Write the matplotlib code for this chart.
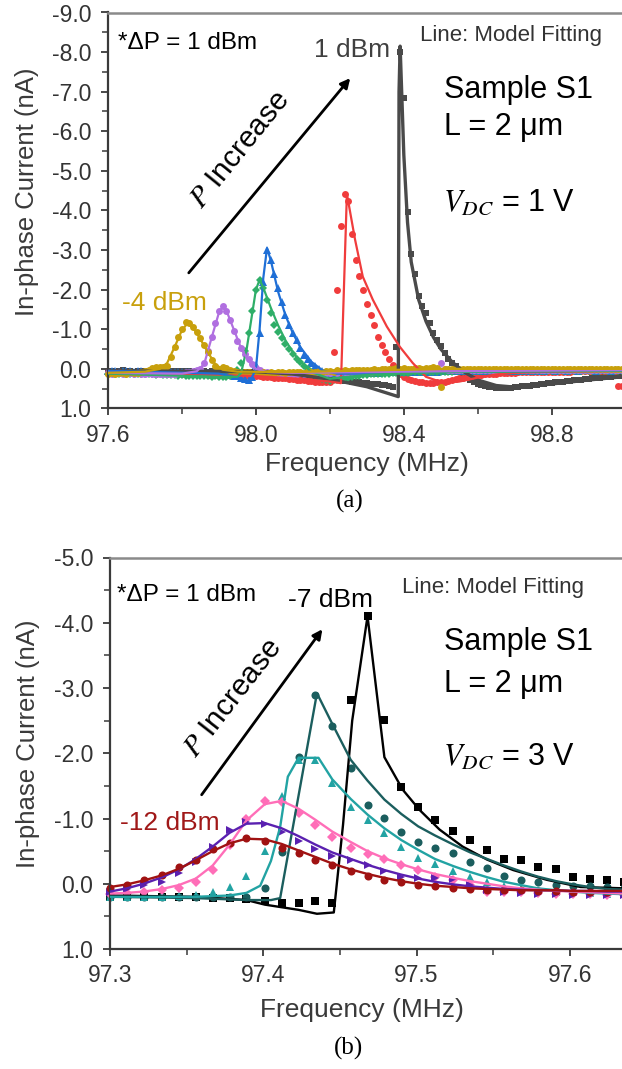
import numpy as np
import matplotlib
matplotlib.use("Agg")
import matplotlib.pyplot as plt
from matplotlib.ticker import MultipleLocator, FixedLocator, FormatStrFormatter

# ---------------- Panel (a): V_DC = 1 V, P from -4 dBm to 1 dBm ----------------
freq_a = np.linspace(97.60, 99.00, 141)

cur_a_p1 = [  # 1 dBm
    0.06, 0.05, 0.07, 0.05, 0.04, 0.06, 0.05, 0.07, 0.06, 0.05,
    0.05, 0.06, 0.04, 0.05, 0.06, 0.05, 0.07, 0.05, 0.06, 0.05,
    0.06, 0.05, 0.06, 0.07, 0.05, 0.06, 0.06, 0.07, 0.06, 0.07,
    0.07, 0.06, 0.08, 0.07, 0.08, 0.07, 0.08, 0.09, 0.08, 0.09,
    0.09, 0.10, 0.10, 0.11, 0.12, 0.12, 0.13, 0.14, 0.15, 0.15,
    0.16, 0.17, 0.18, 0.19, 0.20, 0.21, 0.22, 0.23, 0.24, 0.25,
    0.26, 0.27, 0.28, 0.29, 0.30, 0.31, 0.32, 0.33, 0.34, 0.35,
    0.36, 0.37, 0.38, 0.39, 0.40, 0.41, 0.42, 0.45, -0.55, -8.00,
    -6.85, -3.96, -2.90, -2.40, -1.85, -1.60, -1.42, -1.17, -0.90, -0.72,
    -0.58, -0.40, -0.25, -0.16, -0.07, 0.02, 0.10, 0.18, 0.28, 0.33,
    0.37, 0.40, 0.43, 0.45, 0.46, 0.47, 0.48, 0.48, 0.47, 0.47,
    0.46, 0.45, 0.44, 0.43, 0.42, 0.41, 0.40, 0.39, 0.37, 0.36,
    0.35, 0.34, 0.33, 0.32, 0.31, 0.30, 0.29, 0.28, 0.27, 0.26,
    0.25, 0.24, 0.23, 0.22, 0.21, 0.20, 0.20, 0.19, 0.18, 0.18,
    0.17]
cur_a_0 = [  # 0 dBm
    0.08, 0.10, 0.09, 0.08, 0.10, 0.09, 0.11, 0.10, 0.09, 0.10,
    0.10, 0.11, 0.10, 0.12, 0.11, 0.10, 0.12, 0.11, 0.12, 0.12,
    0.12, 0.13, 0.12, 0.13, 0.14, 0.13, 0.14, 0.15, 0.14, 0.15,
    0.15, 0.16, 0.15, 0.16, 0.17, 0.16, 0.17, 0.18, 0.17, 0.18,
    0.19, 0.19, 0.20, 0.21, 0.21, 0.22, 0.23, 0.23, 0.24, 0.25,
    0.26, 0.27, 0.28, 0.29, 0.30, 0.31, 0.32, 0.33, 0.33, 0.34,
    0.34, -0.43, -2.00, -3.60, -4.42, -4.25, -3.40, -2.75, -2.35, -2.00,
    -1.65, -1.37, -1.10, -0.81, -0.61, -0.42, -0.24, -0.10, 0.02, 0.12,
    0.20, 0.25, 0.29, 0.31, 0.33, 0.34, 0.35, 0.35, 0.35, 0.34,
    0.33, 0.32, 0.30, 0.28, 0.26, 0.24, 0.22, 0.20, 0.18, 0.17,
    0.16, 0.15, 0.14, 0.13, 0.12, 0.12, 0.11, 0.11, 0.10, 0.10,
    0.10, 0.09, 0.09, 0.09, 0.08, 0.08, 0.08, 0.08, 0.08, 0.07,
    0.07, 0.07, 0.07, 0.07, 0.07, 0.07, 0.06, 0.06, 0.06, 0.06,
    0.06, 0.06, 0.06, 0.06, 0.06, 0.06, 0.06, 0.06, 0.42, 0.44,
    0.45]
cur_a_m1 = [  # -1 dBm
    0.05, 0.06, 0.05, 0.07, 0.06, 0.05, 0.06, 0.07, 0.06, 0.06,
    0.07, 0.06, 0.07, 0.08, 0.07, 0.08, 0.07, 0.08, 0.08, 0.09,
    0.08, 0.09, 0.09, 0.10, 0.09, 0.10, 0.11, 0.10, 0.11, 0.12,
    0.12, 0.13, 0.14, 0.15, 0.17, 0.19, 0.22, 0.26, 0.28, 0.20,
    -0.10, -0.90, -2.20, -3.00, -2.75, -2.40, -2.05, -1.70, -1.37, -1.12,
    -0.90, -0.72, -0.54, -0.36, -0.24, -0.16, -0.08, 0.00, 0.05, 0.08,
    0.10, 0.11, 0.12, 0.12, 0.12, 0.12, 0.12, 0.11, 0.11, 0.11,
    0.10, 0.10, 0.10, 0.10, 0.09, 0.09, 0.09, 0.09, 0.09, 0.08,
    0.08, 0.08, 0.08, 0.08, 0.07, 0.07, 0.07, 0.07, 0.07, 0.07,
    0.06, 0.06, 0.06, 0.06, 0.06, 0.06, 0.06, 0.05, 0.05, 0.05,
    0.05, 0.05, 0.05, 0.05, 0.05, 0.05, 0.05, 0.05, 0.05, 0.05,
    0.05, 0.04, 0.05, 0.04, 0.05, 0.04, 0.05, 0.04, 0.05, 0.04,
    0.04, 0.05, 0.04, 0.04, 0.05, 0.04, 0.04, 0.05, 0.04, 0.04,
    0.04, 0.04, 0.05, 0.04, 0.04, 0.04, 0.05, 0.04, 0.04, 0.04,
    0.45]
cur_a_m2 = [  # -2 dBm
    0.12, 0.11, 0.13, 0.12, 0.11, 0.13, 0.12, 0.14, 0.12, 0.13,
    0.13, 0.14, 0.13, 0.15, 0.14, 0.15, 0.16, 0.15, 0.16, 0.17,
    0.16, 0.17, 0.18, 0.17, 0.18, 0.19, 0.18, 0.19, 0.20, 0.19,
    0.20, 0.20, 0.21, 0.18, 0.12, 0.02, -0.15, -0.45, -0.90, -1.45,
    -2.00, -2.25, -2.05, -1.75, -1.40, -1.10, -0.93, -0.78, -0.64, -0.50,
    -0.37, -0.26, -0.17, -0.08, 0.00, 0.08, 0.15, 0.21, 0.26, 0.29,
    0.30, 0.29, 0.28, 0.26, 0.24, 0.22, 0.20, 0.19, 0.17, 0.16,
    0.15, 0.14, 0.14, 0.13, 0.13, 0.12, 0.12, 0.11, 0.11, 0.10,
    0.10, 0.10, 0.09, 0.09, 0.09, 0.08, 0.08, 0.08, 0.08, 0.07,
    0.07, 0.07, 0.07, 0.07, 0.06, 0.06, 0.06, 0.06, 0.06, 0.06,
    0.06, 0.06, 0.06, 0.05, 0.06, 0.06, 0.05, 0.06, 0.05, 0.06,
    0.05, 0.05, 0.06, 0.05, 0.05, 0.06, 0.05, 0.05, 0.05, 0.06,
    0.05, 0.05, 0.05, 0.06, 0.05, 0.05, 0.05, 0.05, 0.06, 0.05,
    0.05, 0.05, 0.05, 0.05, 0.06, 0.05, 0.05, 0.05, 0.05, 0.05,
    0.05]
cur_a_m3 = [  # -3 dBm
    0.10, 0.12, 0.11, 0.10, 0.12, 0.11, 0.10, 0.12, 0.11, 0.12,
    0.12, 0.11, 0.13, 0.12, 0.12, 0.13, 0.12, 0.13, 0.12, 0.11,
    0.10, 0.09, 0.08, 0.06, 0.03, 0.00, -0.15, -0.45, -0.80, -1.15,
    -1.45, -1.58, -1.45, -1.24, -0.95, -0.70, -0.52, -0.38, -0.24, -0.12,
    -0.03, 0.03, 0.07, 0.09, 0.10, 0.11, 0.11, 0.12, 0.12, 0.12,
    0.12, 0.12, 0.11, 0.12, 0.11, 0.11, 0.10, 0.11, 0.10, 0.10,
    0.10, 0.09, 0.10, 0.09, 0.09, 0.08, 0.09, 0.08, 0.08, 0.07,
    0.07, 0.07, 0.06, 0.06, 0.06, 0.05, 0.05, 0.05, 0.04, 0.04,
    0.04, 0.03, 0.03, 0.03, 0.02, 0.02, 0.02, 0.01, 0.01, 0.01,
    -0.15, 0.01, 0.02, 0.02, 0.02, 0.03, 0.03, 0.03, 0.03, 0.03,
    0.03, 0.03, 0.03, 0.03, 0.03, 0.03, 0.03, 0.03, 0.03, 0.03,
    0.03, 0.03, 0.03, 0.03, 0.03, 0.03, 0.03, 0.03, 0.03, 0.03,
    0.03, 0.03, 0.03, 0.03, 0.03, 0.03, 0.03, 0.03, 0.03, 0.03,
    0.03, 0.03, 0.03, 0.03, 0.03, 0.03, 0.03, 0.03, 0.03, 0.03,
    0.03]
cur_a_m4 = [  # -4 dBm
    0.12, 0.10, 0.13, 0.11, 0.10, 0.12, 0.09, 0.11, 0.10, 0.08,
    0.06, 0.03, -0.02, -0.05, -0.06, -0.05, -0.08, -0.30, -0.55, -0.80,
    -1.02, -1.18, -1.15, -1.07, -0.94, -0.78, -0.60, -0.42, -0.22, -0.07,
    0.00, -0.05, -0.03, 0.04, 0.06, 0.08, 0.07, 0.09, 0.08, 0.10,
    0.08, 0.10, 0.09, 0.11, 0.08, 0.10, 0.09, 0.07, 0.10, 0.08,
    0.09, 0.07, 0.08, 0.10, 0.06, 0.08, 0.07, 0.05, 0.08, 0.06,
    0.05, 0.07, 0.04, 0.06, 0.03, 0.05, 0.04, 0.02, 0.04, 0.03,
    0.02, 0.03, 0.01, 0.02, 0.00, 0.01, -0.01, 0.00, -0.02, -0.01,
    -0.02, 0.00, -0.01, -0.02, -0.03, -0.01, -0.03, -0.02, -0.04, -0.02,
    0.45, 0.00, -0.01, 0.01, 0.00, -0.01, 0.00, 0.01, 0.00, -0.01,
    0.00, 0.01, 0.00, -0.01, 0.00, 0.01, 0.00, 0.00, -0.01, 0.00,
    0.01, 0.00, 0.00, -0.01, 0.00, 0.01, 0.00, -0.01, 0.00, 0.00,
    0.00, 0.01, 0.00, 0.00, -0.01, 0.00, 0.01, 0.00, 0.00, -0.01,
    0.00, 0.00, 0.01, 0.00, -0.01, 0.00, 0.00, 0.01, 0.00, 0.00,
    0.00]

# model-fitting curves, panel (a)
fit_a_p1_f = [97.60, 98.00, 98.10, 98.20, 98.30, 98.385, 98.387, 98.390, 98.40, 98.41,
              98.42, 98.44, 98.46, 98.48, 98.50, 98.53, 98.56, 98.60, 98.65, 98.70,
              98.75, 98.80, 98.90, 98.99]
fit_a_p1_i = [0.05, 0.07, 0.13, 0.26, 0.45, 0.70, -7.00, -8.15, -5.40, -3.70,
              -2.70, -1.75, -1.20, -0.80, -0.50, -0.18, 0.06, 0.28, 0.42, 0.46,
              0.43, 0.38, 0.28, 0.20]
fit_a_0_f = [97.60, 98.00, 98.10, 98.20, 98.230, 98.246, 98.268, 98.289, 98.316, 98.354,
             98.389, 98.424, 98.46, 98.50, 98.55, 98.60, 98.65, 98.70, 98.80, 98.99]
fit_a_0_i = [0.08, 0.18, 0.24, 0.32, 0.36, -4.42, -3.27, -2.33, -1.75, -1.07,
             -0.56, -0.15, 0.20, 0.33, 0.32, 0.22, 0.14, 0.10, 0.07, 0.05]
fit_a_m1_f = [97.60, 97.90, 97.95, 97.97, 97.985, 98.00, 98.01, 98.02, 98.03, 98.04,
              98.06, 98.08, 98.10, 98.12, 98.15, 98.18, 98.22, 98.30, 98.50, 98.99]
fit_a_m1_i = [0.05, 0.12, 0.22, 0.33, 0.30, 0.00, -1.00, -2.30, -3.05, -2.75,
              -1.95, -1.35, -0.90, -0.55, -0.18, 0.04, 0.12, 0.12, 0.08, 0.04]
fit_a_m2_f = [97.60, 97.90, 97.95, 97.96, 97.975, 97.99, 98.00, 98.01, 98.02, 98.04,
              98.06, 98.08, 98.10, 98.12, 98.15, 98.20, 98.25, 98.30, 98.50, 98.99]
fit_a_m2_i = [0.12, 0.20, 0.20, 0.10, -0.50, -1.40, -2.00, -2.25, -2.05, -1.55,
              -1.10, -0.72, -0.42, -0.18, 0.08, 0.25, 0.20, 0.15, 0.08, 0.05]
fit_a_m3_f = [97.60, 97.80, 97.84, 97.86, 97.88, 97.90, 97.91, 97.92, 97.94, 97.96,
              97.98, 98.00, 98.03, 98.10, 98.50, 98.99]
fit_a_m3_i = [0.10, 0.12, 0.06, -0.12, -0.78, -1.42, -1.56, -1.48, -1.00, -0.52,
              -0.20, 0.00, 0.08, 0.10, 0.06, 0.03]
fit_a_m4_f = [97.60, 97.70, 97.74, 97.76, 97.78, 97.80, 97.815, 97.83, 97.85, 97.87,
              97.89, 97.91, 97.95, 98.10, 98.30, 98.50, 98.99]
fit_a_m4_i = [0.10, 0.07, 0.00, -0.15, -0.55, -0.98, -1.15, -1.05, -0.75, -0.42,
              -0.12, 0.02, 0.07, 0.08, 0.04, 0.00, 0.00]

# ---------------- Panel (b): V_DC = 3 V, P from -12 dBm to -7 dBm ----------------
freq_b = [97.300, 97.311, 97.322, 97.334, 97.345, 97.356, 97.367, 97.378, 97.389, 97.401,
          97.412, 97.423, 97.434, 97.445, 97.457, 97.468, 97.479, 97.490, 97.501, 97.512,
          97.524, 97.535, 97.546, 97.557, 97.568, 97.579, 97.591, 97.602, 97.613, 97.624,
          97.635]

cur_b_m7 = [0.20, 0.20, 0.20, 0.20, 0.21, 0.21, 0.22, 0.22, 0.23, 0.26,
            0.29, 0.29, 0.27, 0.30, -2.82, -4.10, -2.51, -1.49, -1.18, -0.98,
            -0.81, -0.67, -0.52, -0.38, -0.37, -0.25, -0.23, -0.11, -0.08, -0.05,
            -0.02]
cur_b_m8 = [0.21, 0.21, 0.21, 0.21, 0.20, 0.20, 0.20, 0.20, 0.20, 0.06,
            -0.49, -1.95, -2.90, -2.42, -1.78, -1.21, -1.01, -0.80, -0.64, -0.55,
            -0.47, -0.34, -0.24, -0.12, -0.06, -0.03, 0.02, 0.03, 0.03, 0.05,
            0.07]
cur_b_m9 = [0.20, 0.20, 0.20, 0.20, 0.19, 0.17, 0.12, 0.05, -0.12, -0.50,
            -1.35, -1.90, -1.90, -1.55, -1.17, -0.98, -0.78, -0.57, -0.40, -0.30,
            -0.20, -0.10, -0.03, 0.04, 0.08, 0.10, 0.12, 0.13, 0.14, 0.15,
            0.15]
cur_b_m10 = [0.15, 0.14, 0.12, 0.10, 0.06, -0.02, -0.21, -0.60, -1.00, -1.27,
             -1.26, -1.09, -0.90, -0.72, -0.55, -0.45, -0.38, -0.29, -0.21, -0.11,
             -0.05, 0.02, 0.12, 0.12, 0.13, 0.14, 0.15, 0.15, 0.16, 0.17,
             0.17]
cur_b_m11 = [0.13, 0.08, 0.02, -0.03, -0.17, -0.34, -0.57, -0.82, -0.94, -0.92,
             -0.79, -0.65, -0.53, -0.42, -0.36, -0.28, -0.19, -0.10, -0.09, -0.09,
             -0.07, 0.02, 0.10, 0.13, 0.14, 0.15, 0.16, 0.17, 0.17, 0.18,
             0.18]
cur_b_m12 = [0.07, 0.02, -0.05, -0.14, -0.25, -0.37, -0.54, -0.63, -0.70, -0.66,
             -0.55, -0.47, -0.37, -0.28, -0.20, -0.12, -0.05, -0.02, 0.02, 0.04,
             0.06, 0.08, 0.09, 0.10, 0.10, 0.11, 0.11, 0.12, 0.12, 0.12,
             0.12]

# model-fitting curves, panel (b)
fit_b_m7_f = [97.300, 97.356, 97.389, 97.401, 97.423, 97.435, 97.446, 97.452, 97.458, 97.468,
              97.479, 97.491, 97.502, 97.515, 97.530, 97.546, 97.563, 97.585, 97.607, 97.635]
fit_b_m7_i = [0.18, 0.20, 0.25, 0.32, 0.40, 0.46, 0.44, -0.90, -2.50, -4.10,
              -1.94, -1.44, -1.13, -0.83, -0.57, -0.37, -0.21, -0.06, 0.05, 0.07]
fit_b_m8_f = [97.300, 97.356, 97.390, 97.405, 97.411, 97.435, 97.445, 97.457, 97.468, 97.479,
              97.490, 97.501, 97.512, 97.524, 97.535, 97.546, 97.557, 97.568, 97.579, 97.591,
              97.602, 97.613, 97.624, 97.635]
fit_b_m8_i = [0.20, 0.22, 0.25, 0.25, 0.22, -2.92, -2.45, -1.90, -1.58, -1.29,
              -1.07, -0.88, -0.74, -0.60, -0.48, -0.38, -0.28, -0.19, -0.11, -0.04,
              0.01, 0.05, 0.08, 0.09]
fit_b_m9_f = [97.300, 97.356, 97.378, 97.389, 97.398, 97.405, 97.411, 97.416, 97.423, 97.436,
              97.445, 97.457, 97.468, 97.479, 97.490, 97.501, 97.512, 97.524, 97.535, 97.546,
              97.557, 97.568, 97.579, 97.591, 97.602, 97.613, 97.624, 97.635]
fit_b_m9_i = [0.20, 0.20, 0.18, 0.14, 0.03, -0.35, -0.87, -1.64, -1.93, -1.93,
              -1.60, -1.30, -1.06, -0.85, -0.67, -0.52, -0.38, -0.27, -0.18, -0.10,
              -0.03, 0.02, 0.07, 0.10, 0.12, 0.14, 0.15, 0.16]
fit_b_m10_i = [0.15, 0.14, 0.12, 0.08, 0.02, -0.08, -0.28, -0.60, -0.97, -1.22,
               -1.27, -1.15, -0.98, -0.80, -0.64, -0.50, -0.39, -0.30, -0.22, -0.15,
               -0.09, -0.04, 0.00, 0.04, 0.07, 0.09, 0.11, 0.12, 0.13, 0.14,
               0.15]
fit_b_m11_i = [0.12, 0.07, 0.00, -0.10, -0.22, -0.38, -0.57, -0.78, -0.92, -0.93,
               -0.85, -0.73, -0.60, -0.48, -0.38, -0.29, -0.21, -0.14, -0.08, -0.03,
               0.01, 0.04, 0.06, 0.08, 0.09, 0.10, 0.10, 0.11, 0.11, 0.12,
               0.12]
fit_b_m12_i = [0.05, 0.01, -0.05, -0.13, -0.23, -0.36, -0.50, -0.62, -0.69, -0.68,
               -0.61, -0.51, -0.41, -0.31, -0.22, -0.15, -0.09, -0.04, 0.00, 0.03,
               0.05, 0.07, 0.08, 0.09, 0.10, 0.10, 0.10, 0.11, 0.11, 0.11,
               0.11]

# ---------------- figure ----------------
plt.rcParams['font.family'] = ['Liberation Sans', 'DejaVu Sans']
plt.rcParams['mathtext.fontset'] = 'stix'
plt.rcParams['axes.unicode_minus'] = False

W, H = 622, 1069
fig = plt.figure(figsize=(W / 100, H / 100), dpi=100)


def fx(x):
    return x / W


def fy(y):
    return 1 - y / H


TICK_C = '#333333'
LABEL_C = '#3a3a3a'


def style_axes(ax):
    ax.spines['right'].set_visible(False)
    ax.spines['top'].set_color('#8a8a8a')
    ax.spines['top'].set_linewidth(1.8)
    for s in ('left', 'bottom'):
        ax.spines[s].set_color('#3a3a3a')
        ax.spines[s].set_linewidth(1.6)
    ax.tick_params(which='major', direction='out', length=5, width=1.3,
                   colors='#3a3a3a', labelcolor=TICK_C, labelsize=16.5)
    ax.tick_params(which='minor', direction='out', length=4, width=1.1,
                   colors='#3a3a3a')
    ax.tick_params(axis='y', which='major', pad=7)
    ax.tick_params(axis='x', which='major', pad=6)
    ax.yaxis.set_major_locator(MultipleLocator(1.0))
    ax.yaxis.set_minor_locator(MultipleLocator(0.5))
    ax.yaxis.set_major_formatter(FormatStrFormatter('%.1f'))
    ax.xaxis.set_major_formatter(FormatStrFormatter('%.1f'))
    ax.patch.set_alpha(0)


# ----- panel (a) -----
ax_a = fig.add_axes([fx(108), fy(408.5), 1 - fx(108), fy(12.5) - fy(408.5)])
style_axes(ax_a)
ax_a.set_xlim(97.60, 98.99)
ax_a.set_ylim(1.0, -9.0)
ax_a.xaxis.set_major_locator(FixedLocator([97.6, 98.0, 98.4, 98.8]))
ax_a.xaxis.set_minor_locator(MultipleLocator(0.2))

series_a = [
    (cur_a_p1, fit_a_p1_f, fit_a_p1_i, '#4a4a4a', 's', 4.4, 2.4),
    (cur_a_0, fit_a_0_f, fit_a_0_i, '#f03c3c', 'o', 5.0, 1.6),
    (cur_a_m1, fit_a_m1_f, fit_a_m1_i, '#1f6fd6', '^', 5.4, 1.6),
    (cur_a_m2, fit_a_m2_f, fit_a_m2_i, '#2fae68', 'D', 4.4, 1.6),
    (cur_a_m3, fit_a_m3_f, fit_a_m3_i, '#b06fe0', 'o', 5.0, 1.6),
    (cur_a_m4, fit_a_m4_f, fit_a_m4_i, '#c8a00c', 'o', 5.0, 1.6),
]
for cur, ff, fi, col, mk, ms, lw in series_a:
    ax_a.plot(freq_a, cur, linestyle='none', marker=mk, markersize=ms,
              color=col, markeredgewidth=0, clip_on=False, zorder=2)
    ax_a.plot(ff, fi, color=col, linewidth=lw, zorder=3)

fig.text(fx(367), fy(464), 'Frequency (MHz)', fontsize=19, color=LABEL_C,
         ha='center', va='center')
fig.text(fx(27), fy(192), 'In-phase Current (nA)', fontsize=18.5, color=LABEL_C,
         ha='center', va='center', rotation=90)
fig.text(fx(350), fy(501), '(a)', fontsize=18, family='Liberation Serif',
         ha='center', va='center')

fig.text(fx(118), fy(43), '*ΔP = 1 dBm', fontsize=17.5, ha='left', va='center')
fig.text(fx(420), fy(35), 'Line: Model Fitting', fontsize=16, color='#333333',
         ha='left', va='center')
fig.text(fx(352), fy(50), '1 dBm', fontsize=19, color='#404040',
         ha='center', va='center')
fig.text(fx(444), fy(90), 'Sample S1', fontsize=22, ha='left', va='center')
fig.text(fx(444), fy(127), 'L = 2 μm', fontsize=22, ha='left', va='center')
fig.text(fx(443), fy(203), r'$V_{DC}$ = 1 V', fontsize=22, ha='left', va='center')
fig.text(fx(122), fy(303), '-4 dBm', fontsize=19, color='#c8a00c',
         ha='left', va='center')
fig.text(fx(240), fy(150), r'$P$ Increase', fontsize=21.5, rotation=51,
         ha='center', va='center', rotation_mode='anchor')
fig.add_artist(matplotlib.patches.FancyArrowPatch(
    (fx(187), fy(275)), (fx(352), fy(76)), transform=fig.transFigure,
    arrowstyle='-|>', mutation_scale=14, linewidth=2.0, color='black'))

# ----- panel (b) -----
ax_b = fig.add_axes([fx(110), fy(949), 1 - fx(110), fy(557.5) - fy(949)])
style_axes(ax_b)
ax_b.set_xlim(97.300, 97.634)
ax_b.set_ylim(1.0, -5.0)
ax_b.xaxis.set_major_locator(FixedLocator([97.3, 97.4, 97.5, 97.6]))
ax_b.xaxis.set_minor_locator(MultipleLocator(0.05))

series_b = [
    (cur_b_m7, fit_b_m7_f, fit_b_m7_i, '#000000', 's', 5.2),
    (cur_b_m8, fit_b_m8_f, fit_b_m8_i, '#1b5e5e', 'o', 5.8),
    (cur_b_m9, fit_b_m9_f, fit_b_m9_i, '#22a3a3', '^', 6.4),
    (cur_b_m10, freq_b, fit_b_m10_i, '#ff6eb8', 'D', 5.2),
    (cur_b_m11, freq_b, fit_b_m11_i, '#5a20b0', '>', 6.4),
    (cur_b_m12, freq_b, fit_b_m12_i, '#a01212', 'o', 5.8),
]
for cur, ff, fi, col, mk, ms in series_b:
    ax_b.plot(freq_b, cur, linestyle='none', marker=mk, markersize=ms,
              color=col, markeredgewidth=0, clip_on=False, zorder=2)
    ax_b.plot(ff, fi, color=col, linewidth=1.7, zorder=3)

fig.text(fx(362), fy(1010), 'Frequency (MHz)', fontsize=19, color=LABEL_C,
         ha='center', va='center')
fig.text(fx(28), fy(744), 'In-phase Current (nA)', fontsize=18.5, color=LABEL_C,
         ha='center', va='center', rotation=90)
fig.text(fx(349), fy(1048), '(b)', fontsize=18, family='Liberation Serif',
         ha='center', va='center')

fig.text(fx(117), fy(595), '*ΔP = 1 dBm', fontsize=17.5, ha='left', va='center')
fig.text(fx(402), fy(587), 'Line: Model Fitting', fontsize=16, color='#333333',
         ha='left', va='center')
fig.text(fx(330), fy(600), '-7 dBm', fontsize=19, color='black',
         ha='center', va='center')
fig.text(fx(444), fy(642), 'Sample S1', fontsize=22, ha='left', va='center')
fig.text(fx(444), fy(684), 'L = 2 μm', fontsize=22, ha='left', va='center')
fig.text(fx(443), fy(757), r'$V_{DC}$ = 3 V', fontsize=22, ha='left', va='center')
fig.text(fx(120), fy(823), '-12 dBm', fontsize=19, color='#a01818',
         ha='left', va='center')
fig.text(fx(233), fy(698), r'$P$ Increase', fontsize=21.5, rotation=52,
         ha='center', va='center', rotation_mode='anchor')
fig.add_artist(matplotlib.patches.FancyArrowPatch(
    (fx(200), fy(797)), (fx(324), fy(627)), transform=fig.transFigure,
    arrowstyle='-|>', mutation_scale=14, linewidth=2.0, color='black'))

fig.savefig('out.png', dpi=100, facecolor='white')
